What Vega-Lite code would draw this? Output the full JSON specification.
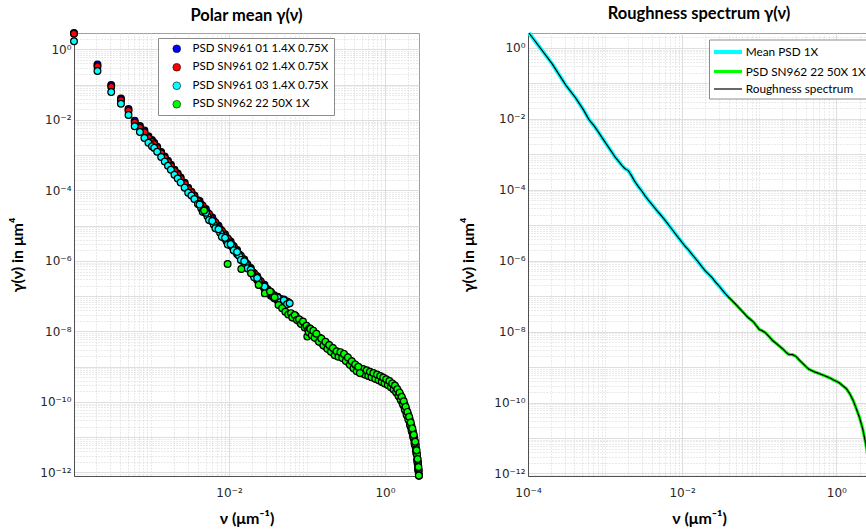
{
"$schema": "https://vega.github.io/schema/vega-lite/v6.json",
"background": "white",
"padding": {"left": 8, "top": 5, "right": 0, "bottom": 0},
"spacing": 109,
"bounds": "flush",
"resolve": {"scale": {"color": "independent", "strokeWidth": "independent"}, "legend": {"color": "independent", "strokeWidth": "independent"}},
"config": {
  "font": "Lato",
  "view": {"stroke": "#a0a0a0", "strokeWidth": 1},
  "axis": {"domain": true, "domainColor": "#505050", "ticks": false, "labelFont": "DejaVu Sans", "labelFontSize": 12, "labelColor": "#262626", "titleFont": "Lato", "titleFontSize": 16, "titleColor": "#000000", "titleFontWeight": "bold", "labelOverlap": false, "labelBound": false, "labelFlush": false, "grid": true},
  "title": {"font": "Lato", "fontSize": 16.5, "fontWeight": "bold", "color": "#000000", "offset": 3, "anchor": "middle"}
},
"datasets": {
"pts": [
{"x":1.03e-4,"y":2.93,"s":"b"},{"x":2.06e-4,"y":0.372,"s":"b"},{"x":3.09e-4,"y":9.77e-2,"s":"b"},{"x":4.12e-4,"y":4.07e-2,"s":"b"},{"x":5.15e-4,"y":2.04e-2,"s":"b"},{"x":6.18e-4,"y":9.55e-3,"s":"b"},{"x":7.21e-4,"y":6.76e-3,"s":"b"},{"x":8.24e-4,"y":5.01e-3,"s":"b"},{"x":9.27e-4,"y":3.47e-3,"s":"b"},{"x":1.03e-3,"y":2.69e-3,"s":"b"},
{"x":1.1e-3,"y":2.24e-3,"s":"b"},{"x":1.2e-3,"y":1.74e-3,"s":"b"},{"x":1.35e-3,"y":1.23e-3,"s":"b"},{"x":1.5e-3,"y":9.12e-4,"s":"b"},{"x":1.65e-3,"y":6.92e-4,"s":"b"},{"x":1.8e-3,"y":5.37e-4,"s":"b"},{"x":2.0e-3,"y":3.89e-4,"s":"b"},{"x":2.2e-3,"y":3.02e-4,"s":"b"},{"x":2.4e-3,"y":2.34e-4,"s":"b"},{"x":2.7e-3,"y":1.66e-4,"s":"b"},
{"x":3.0e-3,"y":1.20e-4,"s":"b"},{"x":3.3e-3,"y":9.12e-5,"s":"b"},{"x":3.6e-3,"y":7.24e-5,"s":"b"},{"x":4.0e-3,"y":5.25e-5,"s":"b"},{"x":4.4e-3,"y":3.98e-5,"s":"b"},{"x":4.8e-3,"y":3.09e-5,"s":"b"},{"x":5.3e-3,"y":2.34e-5,"s":"b"},{"x":5.8e-3,"y":1.78e-5,"s":"b"},{"x":6.4e-3,"y":1.35e-5,"s":"b"},{"x":7.0e-3,"y":1.05e-5,"s":"b"},
{"x":7.7e-3,"y":7.94e-6,"s":"b"},{"x":8.5e-3,"y":5.89e-6,"s":"b"},{"x":9.3e-3,"y":4.57e-6,"s":"b"},{"x":0.010,"y":3.72e-6,"s":"b"},{"x":0.011,"y":2.82e-6,"s":"b"},{"x":0.012,"y":2.19e-6,"s":"b"},{"x":0.0135,"y":1.55e-6,"s":"b"},{"x":0.015,"y":1.15e-6,"s":"b"},{"x":0.0165,"y":8.71e-7,"s":"b"},{"x":0.018,"y":6.76e-7,"s":"b"},
{"x":0.020,"y":4.90e-7,"s":"b"},{"x":0.022,"y":3.80e-7,"s":"b"},{"x":0.024,"y":2.95e-7,"s":"b"},{"x":0.027,"y":2.19e-7,"s":"b"},{"x":0.030,"y":1.66e-7,"s":"b"},{"x":0.033,"y":1.32e-7,"s":"b"},{"x":0.036,"y":1.10e-7,"s":"b"},{"x":0.040,"y":9.33e-8,"s":"b"},{"x":0.044,"y":8.32e-8,"s":"b"},{"x":0.048,"y":7.59e-8,"s":"b"},{"x":0.053,"y":7.08e-8,"s":"b"},{"x":0.058,"y":6.61e-8,"s":"b"},
{"x":4.2e-3,"y":5.0e-5,"s":"b"},{"x":4.6e-3,"y":3.16e-5,"s":"b"},{"x":5.05e-3,"y":2.96e-5,"s":"b"},{"x":5.55e-3,"y":1.84e-5,"s":"b"},{"x":6.1e-3,"y":1.71e-5,"s":"b"},{"x":6.7e-3,"y":1.07e-5,"s":"b"},{"x":7.35e-3,"y":1.0e-5,"s":"b"},{"x":8.1e-3,"y":6.16e-6,"s":"b"},{"x":8.9e-3,"y":5.71e-6,"s":"b"},{"x":9.65e-3,"y":3.71e-6,"s":"b"},
{"x":0.0105,"y":3.56e-6,"s":"b"},{"x":0.0115,"y":2.24e-6,"s":"b"},{"x":0.0127,"y":2.03e-6,"s":"b"},{"x":0.0142,"y":1.2e-6,"s":"b"},{"x":0.0157,"y":1.1e-6,"s":"b"},{"x":0.0172,"y":6.9e-7,"s":"b"},{"x":0.019,"y":6.3e-7,"s":"b"},{"x":0.021,"y":3.9e-7,"s":"b"},{"x":0.023,"y":3.7e-7,"s":"b"},{"x":0.0255,"y":2.29e-7,"s":"b"},
{"x":0.0285,"y":2.1e-7,"s":"b"},{"x":0.0315,"y":1.33e-7,"s":"b"},{"x":0.0345,"y":1.32e-7,"s":"b"},{"x":0.038,"y":9.1e-8,"s":"b"},{"x":0.042,"y":9.7e-8,"s":"b"},{"x":0.046,"y":7.2e-8,"s":"b"},{"x":0.0505,"y":8.1e-8,"s":"b"},{"x":0.0555,"y":6.2e-8,"s":"b"},

{"x":1.03e-4,"y":2.8,"s":"r"},{"x":2.06e-4,"y":0.331,"s":"r"},{"x":3.09e-4,"y":8.70e-2,"s":"r"},{"x":4.12e-4,"y":3.62e-2,"s":"r"},{"x":5.15e-4,"y":1.82e-2,"s":"r"},{"x":6.18e-4,"y":8.50e-3,"s":"r"},{"x":7.21e-4,"y":6.02e-3,"s":"r"},{"x":8.24e-4,"y":4.46e-3,"s":"r"},{"x":9.27e-4,"y":3.09e-3,"s":"r"},{"x":1.03e-3,"y":2.39e-3,"s":"r"},
{"x":1.1e-3,"y":2.06e-3,"s":"r"},{"x":1.2e-3,"y":1.60e-3,"s":"r"},{"x":1.35e-3,"y":1.13e-3,"s":"r"},{"x":1.5e-3,"y":8.39e-4,"s":"r"},{"x":1.65e-3,"y":6.37e-4,"s":"r"},{"x":1.8e-3,"y":4.94e-4,"s":"r"},{"x":2.0e-3,"y":3.58e-4,"s":"r"},{"x":2.2e-3,"y":2.78e-4,"s":"r"},{"x":2.4e-3,"y":2.15e-4,"s":"r"},{"x":2.7e-3,"y":1.53e-4,"s":"r"},
{"x":3.0e-3,"y":1.10e-4,"s":"r"},{"x":3.3e-3,"y":8.66e-5,"s":"r"},{"x":3.6e-3,"y":6.88e-5,"s":"r"},{"x":4.0e-3,"y":4.99e-5,"s":"r"},{"x":4.4e-3,"y":3.78e-5,"s":"r"},{"x":4.8e-3,"y":2.94e-5,"s":"r"},{"x":5.3e-3,"y":2.22e-5,"s":"r"},{"x":5.8e-3,"y":1.69e-5,"s":"r"},{"x":6.4e-3,"y":1.28e-5,"s":"r"},{"x":7.0e-3,"y":9.98e-6,"s":"r"},
{"x":7.7e-3,"y":7.54e-6,"s":"r"},{"x":8.5e-3,"y":5.60e-6,"s":"r"},{"x":9.3e-3,"y":4.34e-6,"s":"r"},{"x":0.010,"y":3.53e-6,"s":"r"},{"x":0.011,"y":2.68e-6,"s":"r"},{"x":0.012,"y":2.08e-6,"s":"r"},{"x":0.0135,"y":1.47e-6,"s":"r"},{"x":0.015,"y":1.09e-6,"s":"r"},{"x":0.0165,"y":8.27e-7,"s":"r"},{"x":0.018,"y":6.42e-7,"s":"r"},
{"x":0.020,"y":4.66e-7,"s":"r"},{"x":0.022,"y":3.61e-7,"s":"r"},{"x":0.024,"y":2.80e-7,"s":"r"},{"x":0.027,"y":2.08e-7,"s":"r"},{"x":0.030,"y":1.58e-7,"s":"r"},{"x":0.033,"y":1.25e-7,"s":"r"},{"x":0.036,"y":1.05e-7,"s":"r"},{"x":0.040,"y":8.86e-8,"s":"r"},{"x":0.044,"y":7.90e-8,"s":"r"},{"x":0.048,"y":7.21e-8,"s":"r"},{"x":0.053,"y":6.73e-8,"s":"r"},{"x":0.058,"y":6.28e-8,"s":"r"},
{"x":4.2e-3,"y":3.9e-5,"s":"r"},{"x":4.6e-3,"y":3.67e-5,"s":"r"},{"x":5.05e-3,"y":2.3e-5,"s":"r"},{"x":5.55e-3,"y":2.13e-5,"s":"r"},{"x":6.1e-3,"y":1.33e-5,"s":"r"},{"x":6.7e-3,"y":1.24e-5,"s":"r"},{"x":7.35e-3,"y":7.8e-6,"s":"r"},{"x":8.1e-3,"y":7.15e-6,"s":"r"},{"x":8.9e-3,"y":4.44e-6,"s":"r"},{"x":9.65e-3,"y":4.3e-6,"s":"r"},
{"x":0.0105,"y":2.77e-6,"s":"r"},{"x":0.0115,"y":2.6e-6,"s":"r"},{"x":0.0127,"y":1.57e-6,"s":"r"},{"x":0.0142,"y":1.4e-6,"s":"r"},{"x":0.0157,"y":8.6e-7,"s":"r"},{"x":0.0172,"y":8.0e-7,"s":"r"},{"x":0.019,"y":4.9e-7,"s":"r"},{"x":0.021,"y":4.5e-7,"s":"r"},{"x":0.023,"y":2.86e-7,"s":"r"},{"x":0.0255,"y":2.65e-7,"s":"r"},
{"x":0.0285,"y":1.63e-7,"s":"r"},{"x":0.0315,"y":1.55e-7,"s":"r"},{"x":0.0345,"y":1.03e-7,"s":"r"},{"x":0.038,"y":1.06e-7,"s":"r"},{"x":0.042,"y":7.5e-8,"s":"r"},{"x":0.046,"y":8.3e-8,"s":"r"},{"x":0.0505,"y":6.3e-8,"s":"r"},{"x":0.0555,"y":7.1e-8,"s":"r"},

{"x":1.03e-4,"y":1.71,"s":"c"},{"x":2.06e-4,"y":0.245,"s":"c"},{"x":3.09e-4,"y":6.17e-2,"s":"c"},{"x":4.12e-4,"y":2.88e-2,"s":"c"},{"x":5.15e-4,"y":1.38e-2,"s":"c"},{"x":6.18e-4,"y":6.61e-3,"s":"c"},{"x":7.21e-4,"y":4.57e-3,"s":"c"},{"x":8.24e-4,"y":3.09e-3,"s":"c"},{"x":9.27e-4,"y":2.24e-3,"s":"c"},{"x":1.03e-3,"y":1.78e-3,"s":"c"},
{"x":1.1e-3,"y":1.61e-3,"s":"c"},{"x":1.2e-3,"y":1.25e-3,"s":"c"},{"x":1.35e-3,"y":8.86e-4,"s":"c"},{"x":1.5e-3,"y":6.57e-4,"s":"c"},{"x":1.65e-3,"y":4.98e-4,"s":"c"},{"x":1.8e-3,"y":3.87e-4,"s":"c"},{"x":2.0e-3,"y":2.80e-4,"s":"c"},{"x":2.2e-3,"y":2.17e-4,"s":"c"},{"x":2.4e-3,"y":1.68e-4,"s":"c"},{"x":2.7e-3,"y":1.20e-4,"s":"c"},
{"x":3.0e-3,"y":8.64e-5,"s":"c"},{"x":3.3e-3,"y":7.20e-5,"s":"c"},{"x":3.6e-3,"y":5.72e-5,"s":"c"},{"x":4.0e-3,"y":4.15e-5,"s":"c"},{"x":4.4e-3,"y":3.14e-5,"s":"c"},{"x":4.8e-3,"y":2.44e-5,"s":"c"},{"x":5.3e-3,"y":1.85e-5,"s":"c"},{"x":5.8e-3,"y":1.41e-5,"s":"c"},{"x":6.4e-3,"y":1.07e-5,"s":"c"},{"x":7.0e-3,"y":8.30e-6,"s":"c"},
{"x":7.7e-3,"y":6.27e-6,"s":"c"},{"x":8.5e-3,"y":4.65e-6,"s":"c"},{"x":9.3e-3,"y":3.61e-6,"s":"c"},{"x":0.010,"y":2.94e-6,"s":"c"},{"x":0.011,"y":2.51e-6,"s":"c"},{"x":0.012,"y":1.95e-6,"s":"c"},{"x":0.0135,"y":1.38e-6,"s":"c"},{"x":0.015,"y":1.02e-6,"s":"c"},{"x":0.0165,"y":7.75e-7,"s":"c"},{"x":0.018,"y":6.02e-7,"s":"c"},
{"x":0.020,"y":4.36e-7,"s":"c"},{"x":0.022,"y":3.38e-7,"s":"c"},{"x":0.024,"y":2.63e-7,"s":"c"},{"x":0.027,"y":1.95e-7,"s":"c"},{"x":0.030,"y":1.48e-7,"s":"c"},{"x":0.033,"y":1.25e-7,"s":"c"},{"x":0.036,"y":1.05e-7,"s":"c"},{"x":0.040,"y":8.86e-8,"s":"c"},{"x":0.044,"y":7.90e-8,"s":"c"},{"x":0.048,"y":7.21e-8,"s":"c"},{"x":0.053,"y":6.73e-8,"s":"c"},
{"x":4.2e-3,"y":3.97e-5,"s":"c"},{"x":4.6e-3,"y":2.49e-5,"s":"c"},{"x":5.05e-3,"y":2.34e-5,"s":"c"},{"x":5.55e-3,"y":1.45e-5,"s":"c"},{"x":6.1e-3,"y":1.35e-5,"s":"c"},{"x":6.7e-3,"y":8.5e-6,"s":"c"},{"x":7.35e-3,"y":7.9e-6,"s":"c"},{"x":8.1e-3,"y":4.86e-6,"s":"c"},{"x":8.9e-3,"y":4.5e-6,"s":"c"},{"x":9.65e-3,"y":2.93e-6,"s":"c"},
{"x":0.0105,"y":2.99e-6,"s":"c"},{"x":0.0115,"y":1.99e-6,"s":"c"},{"x":0.0127,"y":1.8e-6,"s":"c"},{"x":0.0142,"y":1.07e-6,"s":"c"},{"x":0.0157,"y":9.8e-7,"s":"c"},{"x":0.0172,"y":6.15e-7,"s":"c"},{"x":0.019,"y":5.6e-7,"s":"c"},{"x":0.021,"y":3.45e-7,"s":"c"},{"x":0.023,"y":3.28e-7,"s":"c"},{"x":0.0255,"y":2.04e-7,"s":"c"},
{"x":0.0285,"y":1.87e-7,"s":"c"},{"x":0.0315,"y":1.22e-7,"s":"c"},{"x":0.0345,"y":1.26e-7,"s":"c"},{"x":0.038,"y":8.7e-8,"s":"c"},{"x":0.042,"y":9.2e-8,"s":"c"},{"x":0.046,"y":6.8e-8,"s":"c"},{"x":0.0505,"y":7.7e-8,"s":"c"},{"x":0.0555,"y":5.9e-8,"s":"c"},{"x":0.060,"y":6.31e-8,"s":"c"},

{"x":0.0048,"y":2.69e-5,"s":"g"},{"x":0.0096,"y":8.22e-7,"s":"g"},{"x":0.0144,"y":5.89e-7,"s":"g"},{"x":0.0192,"y":4.47e-7,"s":"g"},{"x":0.024,"y":2.09e-7,"s":"g"},{"x":0.0288,"y":1.2e-7,"s":"g"},{"x":0.0336,"y":1.35e-7,"s":"g"},{"x":0.0384,"y":9.33e-8,"s":"g"},{"x":0.0432,"y":5.62e-8,"s":"g"},{"x":0.048,"y":4.57e-8,"s":"g"},
{"x":0.0528,"y":3.63e-8,"s":"g"},{"x":0.0576,"y":3.02e-8,"s":"g"},{"x":0.0624,"y":3.3e-8,"s":"g"},{"x":0.0672,"y":2.5e-8,"s":"g"},{"x":0.072,"y":2.7e-8,"s":"g"},{"x":0.0768,"y":2.1e-8,"s":"g"},{"x":0.0816,"y":1.8e-8,"s":"g"},{"x":0.0864,"y":1.9e-8,"s":"g"},{"x":0.0912,"y":1.5e-8,"s":"g"},{"x":0.096,"y":1.45e-8,"s":"g"},
{"x":0.101,"y":7.2e-9,"s":"g"},{"x":0.106,"y":1.2e-8,"s":"g"},{"x":0.11,"y":1.0e-8,"s":"g"},{"x":0.115,"y":9.5e-9,"s":"g"},{"x":0.12,"y":9.0e-9,"s":"g"},{"x":0.125,"y":8.0e-9,"s":"g"},{"x":0.13,"y":7.5e-9,"s":"g"},{"x":0.14,"y":6.3e-9,"s":"g"},{"x":0.15,"y":5.5e-9,"s":"g"},{"x":0.16,"y":4.9e-9,"s":"g"},
{"x":0.17,"y":4.4e-9,"s":"g"},{"x":0.18,"y":4.0e-9,"s":"g"},{"x":0.19,"y":3.6e-9,"s":"g"},{"x":0.2,"y":3.3e-9,"s":"g"},{"x":0.212,"y":3.0e-9,"s":"g"},{"x":0.224,"y":2.6e-9,"s":"g"},{"x":0.236,"y":2.35e-9,"s":"g"},{"x":0.25,"y":2.3e-9,"s":"g"},{"x":0.265,"y":2.2e-9,"s":"g"},{"x":0.28,"y":2.15e-9,"s":"g"},
{"x":0.295,"y":2.0e-9,"s":"g"},{"x":0.31,"y":1.8e-9,"s":"g"},{"x":0.33,"y":1.6e-9,"s":"g"},{"x":0.35,"y":1.4e-9,"s":"g"},{"x":0.37,"y":1.25e-9,"s":"g"},{"x":0.39,"y":1.1e-9,"s":"g"},{"x":0.41,"y":1.0e-9,"s":"g"},{"x":0.43,"y":9.0e-10,"s":"g"},{"x":0.45,"y":8.5e-10,"s":"g"},{"x":0.47,"y":8.0e-10,"s":"g"},
{"x":0.5,"y":7.6e-10,"s":"g"},{"x":0.53,"y":7.2e-10,"s":"g"},{"x":0.56,"y":6.9e-10,"s":"g"},{"x":0.59,"y":6.6e-10,"s":"g"},{"x":0.62,"y":6.3e-10,"s":"g"},{"x":0.65,"y":6.0e-10,"s":"g"},{"x":0.68,"y":5.8e-10,"s":"g"},{"x":0.72,"y":5.5e-10,"s":"g"},{"x":0.76,"y":5.3e-10,"s":"g"},{"x":0.8,"y":5.0e-10,"s":"g"},
{"x":0.84,"y":4.8e-10,"s":"g"},{"x":0.88,"y":4.5e-10,"s":"g"},{"x":0.92,"y":4.3e-10,"s":"g"},{"x":0.96,"y":4.1e-10,"s":"g"},{"x":1.0,"y":3.9e-10,"s":"g"},{"x":1.05,"y":3.7e-10,"s":"g"},{"x":1.1,"y":3.5e-10,"s":"g"},{"x":1.15,"y":3.25e-10,"s":"g"},{"x":1.2,"y":3.0e-10,"s":"g"},{"x":1.25,"y":2.8e-10,"s":"g"},
{"x":1.3,"y":2.6e-10,"s":"g"},{"x":1.35,"y":2.4e-10,"s":"g"},{"x":1.4,"y":2.15e-10,"s":"g"},{"x":1.45,"y":1.9e-10,"s":"g"},{"x":1.5,"y":1.7e-10,"s":"g"},{"x":1.55,"y":1.5e-10,"s":"g"},{"x":1.6,"y":1.3e-10,"s":"g"},{"x":1.65,"y":1.15e-10,"s":"g"},{"x":1.7,"y":1.0e-10,"s":"g"},{"x":1.75,"y":8.5e-11,"s":"g"},
{"x":1.8,"y":7.0e-11,"s":"g"},{"x":1.85,"y":6.0e-11,"s":"g"},{"x":1.9,"y":5.0e-11,"s":"g"},{"x":1.95,"y":4.3e-11,"s":"g"},{"x":2.0,"y":3.7e-11,"s":"g"},{"x":2.05,"y":3.1e-11,"s":"g"},{"x":2.1,"y":2.6e-11,"s":"g"},{"x":2.15,"y":2.1e-11,"s":"g"},{"x":2.2,"y":1.8e-11,"s":"g"},{"x":2.25,"y":1.45e-11,"s":"g"},
{"x":2.3,"y":1.2e-11,"s":"g"},{"x":2.35,"y":9.5e-12,"s":"g"},{"x":2.4,"y":7.5e-12,"s":"g"},{"x":2.45,"y":6.0e-12,"s":"g"},{"x":2.5,"y":4.6e-12,"s":"g"},{"x":2.55,"y":3.4e-12,"s":"g"},{"x":2.6,"y":2.4e-12,"s":"g"},{"x":2.63,"y":1.9e-12,"s":"g"},{"x":2.66,"y":1.5e-12,"s":"g"},{"x":2.69,"y":1.15e-12,"s":"g"},
{"x":2.71,"y":9.5e-13,"s":"g"},{"x":2.73,"y":8.0e-13,"s":"g"},
{"x":0.0648,"y":2.5e-8,"s":"g"},{"x":0.0696,"y":2.9e-8,"s":"g"},{"x":0.0744,"y":2.1e-8,"s":"g"},{"x":0.0792,"y":2.2e-8,"s":"g"},{"x":0.084,"y":1.63e-8,"s":"g"},{"x":0.0888,"y":1.9e-8,"s":"g"},{"x":0.0936,"y":1.3e-8,"s":"g"},{"x":0.0985,"y":1.45e-8,"s":"g"},{"x":0.1035,"y":1.1e-8,"s":"g"},{"x":0.108,"y":1.23e-8,"s":"g"},
{"x":0.1125,"y":8.6e-9,"s":"g"},{"x":0.1175,"y":1.04e-8,"s":"g"},{"x":0.1225,"y":7.5e-9,"s":"g"},{"x":0.1275,"y":8.7e-9,"s":"g"},{"x":0.135,"y":6.1e-9,"s":"g"},{"x":0.145,"y":6.6e-9,"s":"g"},{"x":0.155,"y":4.6e-9,"s":"g"},{"x":0.165,"y":5.2e-9,"s":"g"},{"x":0.175,"y":3.7e-9,"s":"g"},{"x":0.185,"y":4.25e-9,"s":"g"},
{"x":0.195,"y":3.0e-9,"s":"g"},{"x":0.206,"y":3.5e-9,"s":"g"},{"x":0.218,"y":2.46e-9,"s":"g"},{"x":0.23,"y":2.77e-9,"s":"g"},{"x":0.243,"y":2.04e-9,"s":"g"},{"x":0.2575,"y":2.52e-9,"s":"g"},{"x":0.2725,"y":1.91e-9,"s":"g"},{"x":0.2875,"y":2.32e-9,"s":"g"},{"x":0.3025,"y":1.67e-9,"s":"g"},{"x":0.32,"y":1.9e-9,"s":"g"},
{"x":0.34,"y":1.32e-9,"s":"g"},{"x":0.36,"y":1.48e-9,"s":"g"},{"x":0.38,"y":1.03e-9,"s":"g"},{"x":0.40,"y":1.18e-9,"s":"g"},{"x":0.42,"y":8.4e-10,"s":"g"},{"x":0.44,"y":9.8e-10,"s":"g"},{"x":0.46,"y":7.3e-10,"s":"g"},{"x":0.485,"y":8.7e-10,"s":"g"},{"x":0.515,"y":6.5e-10,"s":"g"},{"x":0.545,"y":7.9e-10,"s":"g"},
{"x":0.575,"y":5.9e-10,"s":"g"},{"x":0.605,"y":7.2e-10,"s":"g"},{"x":0.635,"y":5.4e-10,"s":"g"},{"x":0.665,"y":6.6e-10,"s":"g"},{"x":0.70,"y":5.0e-10,"s":"g"},{"x":0.74,"y":6.0e-10,"s":"g"},{"x":0.78,"y":4.5e-10,"s":"g"},{"x":0.82,"y":5.5e-10,"s":"g"},{"x":0.86,"y":4.1e-10,"s":"g"},{"x":0.90,"y":4.9e-10,"s":"g"},
{"x":0.94,"y":3.7e-10,"s":"g"},{"x":0.98,"y":4.5e-10,"s":"g"},{"x":1.025,"y":3.35e-10,"s":"g"},{"x":1.075,"y":4.0e-10,"s":"g"},{"x":1.125,"y":2.97e-10,"s":"g"},{"x":1.175,"y":3.5e-10,"s":"g"},{"x":1.225,"y":2.55e-10,"s":"g"},{"x":1.275,"y":3.0e-10,"s":"g"},{"x":1.325,"y":2.2e-10,"s":"g"},{"x":1.375,"y":2.55e-10,"s":"g"},
{"x":1.425,"y":1.78e-10,"s":"g"},{"x":1.475,"y":2.0e-10,"s":"g"},{"x":1.525,"y":1.4e-10,"s":"g"},{"x":1.575,"y":1.57e-10,"s":"g"},{"x":1.625,"y":1.07e-10,"s":"g"},{"x":1.675,"y":1.2e-10,"s":"g"},{"x":1.725,"y":8.1e-11,"s":"g"},{"x":1.775,"y":8.6e-11,"s":"g"},{"x":1.825,"y":5.7e-11,"s":"g"},{"x":1.875,"y":6.2e-11,"s":"g"},
{"x":1.925,"y":4.1e-11,"s":"g"},{"x":1.975,"y":4.5e-11,"s":"g"},{"x":2.025,"y":3.0e-11,"s":"g"},{"x":2.075,"y":3.2e-11,"s":"g"},{"x":2.125,"y":2.05e-11,"s":"g"},{"x":2.175,"y":2.2e-11,"s":"g"},{"x":2.225,"y":1.4e-11,"s":"g"},{"x":2.275,"y":1.48e-11,"s":"g"},{"x":2.325,"y":9.4e-12,"s":"g"},{"x":2.375,"y":9.5e-12,"s":"g"},
{"x":2.425,"y":5.9e-12,"s":"g"},{"x":2.475,"y":5.9e-12,"s":"g"},{"x":2.525,"y":3.5e-12,"s":"g"},{"x":2.575,"y":3.2e-12,"s":"g"},{"x":2.615,"y":1.85e-12,"s":"g"},{"x":2.645,"y":1.9e-12,"s":"g"},{"x":2.675,"y":1.15e-12,"s":"g"},{"x":2.70,"y":1.17e-12,"s":"g"},{"x":2.72,"y":8.2e-13,"s":"g"},
{"x":0.4925,"y":6.5e-10,"s":"g"},{"x":0.5225,"y":8.6e-10,"s":"g"},{"x":0.5525,"y":5.95e-10,"s":"g"},{"x":0.5825,"y":7.9e-10,"s":"g"},{"x":0.6125,"y":5.4e-10,"s":"g"},{"x":0.6425,"y":7.2e-10,"s":"g"},{"x":0.6725,"y":5.0e-10,"s":"g"},{"x":0.71,"y":6.6e-10,"s":"g"},{"x":0.75,"y":4.55e-10,"s":"g"},{"x":0.79,"y":6.0e-10,"s":"g"},
{"x":0.83,"y":4.1e-10,"s":"g"},{"x":0.87,"y":5.4e-10,"s":"g"},{"x":0.91,"y":3.7e-10,"s":"g"},{"x":0.95,"y":4.9e-10,"s":"g"},{"x":0.99,"y":3.35e-10,"s":"g"},{"x":1.04,"y":4.4e-10,"s":"g"},{"x":1.09,"y":3.0e-10,"s":"g"},{"x":1.14,"y":3.9e-10,"s":"g"},{"x":1.19,"y":2.6e-10,"s":"g"},{"x":1.24,"y":3.35e-10,"s":"g"},
{"x":1.29,"y":2.25e-10,"s":"g"},{"x":1.34,"y":2.9e-10,"s":"g"},{"x":1.39,"y":1.87e-10,"s":"g"},{"x":1.44,"y":2.3e-10,"s":"g"},{"x":1.49,"y":1.49e-10,"s":"g"},{"x":1.54,"y":1.83e-10,"s":"g"},{"x":1.59,"y":1.15e-10,"s":"g"},{"x":1.64,"y":1.39e-10,"s":"g"},{"x":1.69,"y":8.8e-11,"s":"g"},{"x":1.74,"y":1.04e-10,"s":"g"},
{"x":1.79,"y":6.2e-11,"s":"g"},{"x":1.84,"y":7.3e-11,"s":"g"},{"x":1.89,"y":4.4e-11,"s":"g"},{"x":1.94,"y":5.2e-11,"s":"g"},{"x":1.99,"y":3.2e-11,"s":"g"},{"x":2.04,"y":3.8e-11,"s":"g"},{"x":2.09,"y":2.3e-11,"s":"g"},{"x":2.14,"y":2.6e-11,"s":"g"},{"x":2.19,"y":1.58e-11,"s":"g"},{"x":2.24,"y":1.77e-11,"s":"g"},
{"x":2.29,"y":1.06e-11,"s":"g"},{"x":2.34,"y":1.17e-11,"s":"g"},{"x":2.39,"y":6.7e-12,"s":"g"},{"x":2.44,"y":7.4e-12,"s":"g"},{"x":2.49,"y":4.2e-12,"s":"g"},{"x":2.54,"y":4.25e-12,"s":"g"},{"x":2.59,"y":2.2e-12,"s":"g"},{"x":2.62,"y":2.4e-12,"s":"g"},{"x":2.655,"y":1.32e-12,"s":"g"},{"x":2.685,"y":1.42e-12,"s":"g"},
{"x":0.1055,"y":9.5e-9,"s":"g"},{"x":0.1105,"y":1.18e-8,"s":"g"},{"x":0.1155,"y":7.8e-9,"s":"g"},{"x":0.1205,"y":1.05e-8,"s":"g"},{"x":0.1255,"y":6.6e-9,"s":"g"},{"x":0.132,"y":8.6e-9,"s":"g"},{"x":0.1425,"y":5.1e-9,"s":"g"},{"x":0.1525,"y":6.3e-9,"s":"g"},{"x":0.1625,"y":4.0e-9,"s":"g"},{"x":0.1725,"y":5.1e-9,"s":"g"},
{"x":0.1825,"y":3.2e-9,"s":"g"},{"x":0.1925,"y":4.1e-9,"s":"g"},{"x":0.203,"y":2.66e-9,"s":"g"},{"x":0.215,"y":3.4e-9,"s":"g"},{"x":0.227,"y":2.1e-9,"s":"g"},{"x":0.2395,"y":2.75e-9,"s":"g"},{"x":0.2535,"y":1.9e-9,"s":"g"},{"x":0.2685,"y":2.58e-9,"s":"g"},{"x":0.2835,"y":1.75e-9,"s":"g"},{"x":0.2985,"y":2.3e-9,"s":"g"},
{"x":0.315,"y":1.45e-9,"s":"g"},{"x":0.335,"y":1.83e-9,"s":"g"},{"x":0.355,"y":1.13e-9,"s":"g"},{"x":0.375,"y":1.43e-9,"s":"g"},{"x":0.395,"y":9.0e-10,"s":"g"},{"x":0.415,"y":1.16e-9,"s":"g"},{"x":0.435,"y":7.4e-10,"s":"g"},{"x":0.455,"y":9.9e-10,"s":"g"},{"x":0.4775,"y":6.6e-10,"s":"g"}
],
"lines": [
{"x":1.03e-4,"y":2.63,"s":"m"},{"x":2.06e-4,"y":0.355,"s":"m"},{"x":3.09e-4,"y":8.91e-2,"s":"m"},{"x":4.12e-4,"y":3.98e-2,"s":"m"},{"x":5.15e-4,"y":1.91e-2,"s":"m"},{"x":6.18e-4,"y":9.55e-3,"s":"m"},{"x":7.21e-4,"y":6.31e-3,"s":"m"},{"x":8.24e-4,"y":4.17e-3,"s":"m"},{"x":9.27e-4,"y":2.82e-3,"s":"m"},{"x":1.03e-3,"y":2.00e-3,"s":"m"},
{"x":1.1e-3,"y":1.62e-3,"s":"m"},{"x":1.2e-3,"y":1.23e-3,"s":"m"},{"x":1.35e-3,"y":8.32e-4,"s":"m"},{"x":1.5e-3,"y":6.31e-4,"s":"m"},{"x":1.65e-3,"y":4.90e-4,"s":"m"},{"x":1.8e-3,"y":3.98e-4,"s":"m"},{"x":2.0e-3,"y":3.47e-4,"s":"m"},{"x":2.2e-3,"y":2.51e-4,"s":"m"},{"x":2.4e-3,"y":1.78e-4,"s":"m"},{"x":2.7e-3,"y":1.23e-4,"s":"m"},
{"x":3.0e-3,"y":9.12e-5,"s":"m"},{"x":3.3e-3,"y":6.76e-5,"s":"m"},{"x":3.6e-3,"y":5.25e-5,"s":"m"},{"x":4.0e-3,"y":3.98e-5,"s":"m"},{"x":4.4e-3,"y":3.09e-5,"s":"m"},{"x":4.8e-3,"y":2.45e-5,"s":"m"},{"x":5.3e-3,"y":1.91e-5,"s":"m"},{"x":5.8e-3,"y":1.51e-5,"s":"m"},{"x":6.4e-3,"y":1.15e-5,"s":"m"},{"x":7.0e-3,"y":8.91e-6,"s":"m"},
{"x":7.7e-3,"y":6.76e-6,"s":"m"},{"x":8.5e-3,"y":5.13e-6,"s":"m"},{"x":9.3e-3,"y":3.98e-6,"s":"m"},{"x":0.010,"y":3.24e-6,"s":"m"},{"x":0.011,"y":2.51e-6,"s":"m"},{"x":0.012,"y":2.04e-6,"s":"m"},{"x":0.0135,"y":1.48e-6,"s":"m"},{"x":0.015,"y":1.12e-6,"s":"m"},{"x":0.0165,"y":8.71e-7,"s":"m"},{"x":0.018,"y":6.76e-7,"s":"m"},
{"x":0.020,"y":5.13e-7,"s":"m"},{"x":0.022,"y":4.17e-7,"s":"m"},{"x":0.024,"y":3.47e-7,"s":"m"},{"x":0.027,"y":2.51e-7,"s":"m"},{"x":0.030,"y":1.95e-7,"s":"m"},{"x":0.033,"y":1.51e-7,"s":"m"},{"x":0.036,"y":1.20e-7,"s":"m"},{"x":0.040,"y":9.33e-8,"s":"m"},

{"x":0.040,"y":9.33e-8,"s":"g"},{"x":0.044,"y":7.59e-8,"s":"g"},{"x":0.048,"y":6.31e-8,"s":"g"},{"x":0.053,"y":5.01e-8,"s":"g"},{"x":0.058,"y":4.07e-8,"s":"g"},{"x":0.064,"y":3.24e-8,"s":"g"},{"x":0.070,"y":2.63e-8,"s":"g"},{"x":0.077,"y":2.19e-8,"s":"g"},{"x":0.085,"y":1.82e-8,"s":"g"},{"x":0.093,"y":1.41e-8,"s":"g"},
{"x":0.10,"y":1.15e-8,"s":"g"},{"x":0.11,"y":1.05e-8,"s":"g"},{"x":0.12,"y":9.33e-9,"s":"g"},{"x":0.135,"y":7.08e-9,"s":"g"},{"x":0.15,"y":5.50e-9,"s":"g"},{"x":0.165,"y":4.68e-9,"s":"g"},{"x":0.18,"y":3.98e-9,"s":"g"},{"x":0.20,"y":3.31e-9,"s":"g"},{"x":0.22,"y":2.69e-9,"s":"g"},{"x":0.24,"y":2.29e-9,"s":"g"},
{"x":0.27,"y":2.24e-9,"s":"g"},{"x":0.30,"y":2.00e-9,"s":"g"},{"x":0.33,"y":1.58e-9,"s":"g"},{"x":0.36,"y":1.32e-9,"s":"g"},{"x":0.40,"y":1.05e-9,"s":"g"},{"x":0.44,"y":8.71e-10,"s":"g"},{"x":0.48,"y":7.94e-10,"s":"g"},{"x":0.53,"y":7.24e-10,"s":"g"},{"x":0.58,"y":6.76e-10,"s":"g"},{"x":0.64,"y":6.17e-10,"s":"g"},
{"x":0.70,"y":5.75e-10,"s":"g"},{"x":0.77,"y":5.25e-10,"s":"g"},{"x":0.85,"y":4.79e-10,"s":"g"},{"x":0.93,"y":4.27e-10,"s":"g"},{"x":1.0,"y":3.98e-10,"s":"g"},{"x":1.1,"y":3.55e-10,"s":"g"},{"x":1.2,"y":3.02e-10,"s":"g"},{"x":1.35,"y":2.45e-10,"s":"g"},{"x":1.5,"y":1.74e-10,"s":"g"},{"x":1.65,"y":1.15e-10,"s":"g"},
{"x":1.8,"y":7.08e-11,"s":"g"},{"x":2.0,"y":3.72e-11,"s":"g"},{"x":2.2,"y":1.78e-11,"s":"g"},{"x":2.4,"y":7.08e-12,"s":"g"},{"x":2.55,"y":3.16e-12,"s":"g"},{"x":2.65,"y":1.58e-12,"s":"g"},{"x":2.73,"y":8.6e-13,"s":"g"},

{"x":1.03e-4,"y":2.63,"s":"r"},{"x":2.06e-4,"y":0.355,"s":"r"},{"x":3.09e-4,"y":8.91e-2,"s":"r"},{"x":4.12e-4,"y":3.98e-2,"s":"r"},{"x":5.15e-4,"y":1.91e-2,"s":"r"},{"x":6.18e-4,"y":9.55e-3,"s":"r"},{"x":7.21e-4,"y":6.31e-3,"s":"r"},{"x":8.24e-4,"y":4.17e-3,"s":"r"},{"x":9.27e-4,"y":2.82e-3,"s":"r"},{"x":1.03e-3,"y":2.00e-3,"s":"r"},
{"x":1.1e-3,"y":1.62e-3,"s":"r"},{"x":1.2e-3,"y":1.23e-3,"s":"r"},{"x":1.35e-3,"y":8.32e-4,"s":"r"},{"x":1.5e-3,"y":6.31e-4,"s":"r"},{"x":1.65e-3,"y":4.90e-4,"s":"r"},{"x":1.8e-3,"y":3.98e-4,"s":"r"},{"x":2.0e-3,"y":3.47e-4,"s":"r"},{"x":2.2e-3,"y":2.51e-4,"s":"r"},{"x":2.4e-3,"y":1.78e-4,"s":"r"},{"x":2.7e-3,"y":1.23e-4,"s":"r"},
{"x":3.0e-3,"y":9.12e-5,"s":"r"},{"x":3.3e-3,"y":6.76e-5,"s":"r"},{"x":3.6e-3,"y":5.25e-5,"s":"r"},{"x":4.0e-3,"y":3.98e-5,"s":"r"},{"x":4.4e-3,"y":3.09e-5,"s":"r"},{"x":4.8e-3,"y":2.45e-5,"s":"r"},{"x":5.3e-3,"y":1.91e-5,"s":"r"},{"x":5.8e-3,"y":1.51e-5,"s":"r"},{"x":6.4e-3,"y":1.15e-5,"s":"r"},{"x":7.0e-3,"y":8.91e-6,"s":"r"},
{"x":7.7e-3,"y":6.76e-6,"s":"r"},{"x":8.5e-3,"y":5.13e-6,"s":"r"},{"x":9.3e-3,"y":3.98e-6,"s":"r"},{"x":0.010,"y":3.24e-6,"s":"r"},{"x":0.011,"y":2.51e-6,"s":"r"},{"x":0.012,"y":2.04e-6,"s":"r"},{"x":0.0135,"y":1.48e-6,"s":"r"},{"x":0.015,"y":1.12e-6,"s":"r"},{"x":0.0165,"y":8.71e-7,"s":"r"},{"x":0.018,"y":6.76e-7,"s":"r"},
{"x":0.020,"y":5.13e-7,"s":"r"},{"x":0.022,"y":4.17e-7,"s":"r"},{"x":0.024,"y":3.47e-7,"s":"r"},{"x":0.027,"y":2.51e-7,"s":"r"},{"x":0.030,"y":1.95e-7,"s":"r"},{"x":0.033,"y":1.51e-7,"s":"r"},{"x":0.036,"y":1.20e-7,"s":"r"},
{"x":0.040,"y":9.33e-8,"s":"r"},{"x":0.044,"y":7.59e-8,"s":"r"},{"x":0.048,"y":6.31e-8,"s":"r"},{"x":0.053,"y":5.01e-8,"s":"r"},{"x":0.058,"y":4.07e-8,"s":"r"},{"x":0.064,"y":3.24e-8,"s":"r"},{"x":0.070,"y":2.63e-8,"s":"r"},{"x":0.077,"y":2.19e-8,"s":"r"},{"x":0.085,"y":1.82e-8,"s":"r"},{"x":0.093,"y":1.41e-8,"s":"r"},
{"x":0.10,"y":1.15e-8,"s":"r"},{"x":0.11,"y":1.05e-8,"s":"r"},{"x":0.12,"y":9.33e-9,"s":"r"},{"x":0.135,"y":7.08e-9,"s":"r"},{"x":0.15,"y":5.50e-9,"s":"r"},{"x":0.165,"y":4.68e-9,"s":"r"},{"x":0.18,"y":3.98e-9,"s":"r"},{"x":0.20,"y":3.31e-9,"s":"r"},{"x":0.22,"y":2.69e-9,"s":"r"},{"x":0.24,"y":2.29e-9,"s":"r"},
{"x":0.27,"y":2.24e-9,"s":"r"},{"x":0.30,"y":2.00e-9,"s":"r"},{"x":0.33,"y":1.58e-9,"s":"r"},{"x":0.36,"y":1.32e-9,"s":"r"},{"x":0.40,"y":1.05e-9,"s":"r"},{"x":0.44,"y":8.71e-10,"s":"r"},{"x":0.48,"y":7.94e-10,"s":"r"},{"x":0.53,"y":7.24e-10,"s":"r"},{"x":0.58,"y":6.76e-10,"s":"r"},{"x":0.64,"y":6.17e-10,"s":"r"},
{"x":0.70,"y":5.75e-10,"s":"r"},{"x":0.77,"y":5.25e-10,"s":"r"},{"x":0.85,"y":4.79e-10,"s":"r"},{"x":0.93,"y":4.27e-10,"s":"r"},{"x":1.0,"y":3.98e-10,"s":"r"},{"x":1.1,"y":3.55e-10,"s":"r"},{"x":1.2,"y":3.02e-10,"s":"r"},{"x":1.35,"y":2.45e-10,"s":"r"},{"x":1.5,"y":1.74e-10,"s":"r"},{"x":1.65,"y":1.15e-10,"s":"r"},
{"x":1.8,"y":7.08e-11,"s":"r"},{"x":2.0,"y":3.72e-11,"s":"r"},{"x":2.2,"y":1.78e-11,"s":"r"},{"x":2.4,"y":7.08e-12,"s":"r"},{"x":2.55,"y":3.16e-12,"s":"r"},{"x":2.65,"y":1.58e-12,"s":"r"},{"x":2.73,"y":8.6e-13,"s":"r"}
]
},
"hconcat": [
{
  "width": 345, "height": 443,
  "title": {"text": "Polar mean γ(ν)"},
  "data": {"name": "pts"},
  "mark": {"type": "circle", "size": 46, "opacity": 1, "stroke": "#000000", "strokeWidth": 1.2},
  "encoding": {
    "x": {"field": "x", "type": "quantitative",
      "scale": {"type": "log", "domain": [1.03e-4, 2.73], "nice": false},
      "axis": {"title": "ν (μm⁻¹)", "labelPadding": 11, "titlePadding": 12,
        "values": [2e-4,3e-4,4e-4,5e-4,6e-4,7e-4,8e-4,9e-4,0.001,0.002,0.003,0.004,0.005,0.006,0.007,0.008,0.009,0.01,0.02,0.03,0.04,0.05,0.06,0.07,0.08,0.09,0.1,0.2,0.3,0.4,0.5,0.6,0.7,0.8,0.9,1,2],
        "labelExpr": "datum.value == 1 ? '10⁰' : datum.value == 0.01 ? '10⁻²' : datum.value == 0.0001 ? '10⁻⁴' : ''",
        "gridDash": {"condition": {"test": "indexof([1,0.01,0.0001], datum.value) < 0", "value": [1, 2]}, "value": []},
        "gridColor": {"condition": {"test": "indexof([1,0.01,0.0001], datum.value) < 0", "value": "#d4d4d4"}, "value": "#dedede"}}},
    "y": {"field": "y", "type": "quantitative",
      "scale": {"type": "log", "domain": [7.9e-13, 2.93], "nice": false},
      "axis": {"title": "γ(ν) in μm⁴", "labelPadding": 3, "titleX": -49,
        "values": [9e-13,1e-12,2e-12,3e-12,4e-12,5e-12,6e-12,7e-12,8e-12,9e-12,1e-11,2e-11,3e-11,4e-11,5e-11,6e-11,7e-11,8e-11,9e-11,1e-10,2e-10,3e-10,4e-10,5e-10,6e-10,7e-10,8e-10,9e-10,1e-9,2e-9,3e-9,4e-9,5e-9,6e-9,7e-9,8e-9,9e-9,1e-8,2e-8,3e-8,4e-8,5e-8,6e-8,7e-8,8e-8,9e-8,1e-7,2e-7,3e-7,4e-7,5e-7,6e-7,7e-7,8e-7,9e-7,1e-6,2e-6,3e-6,4e-6,5e-6,6e-6,7e-6,8e-6,9e-6,1e-5,2e-5,3e-5,4e-5,5e-5,6e-5,7e-5,8e-5,9e-5,1e-4,2e-4,3e-4,4e-4,5e-4,6e-4,7e-4,8e-4,9e-4,0.001,0.002,0.003,0.004,0.005,0.006,0.007,0.008,0.009,0.01,0.02,0.03,0.04,0.05,0.06,0.07,0.08,0.09,0.1,0.2,0.3,0.4,0.5,0.6,0.7,0.8,0.9,1,2],
        "labelExpr": "datum.value == 1 ? '10⁰' : datum.value == 0.01 ? '10⁻²' : datum.value == 0.0001 ? '10⁻⁴' : datum.value == 1e-6 ? '10⁻⁶' : datum.value == 1e-8 ? '10⁻⁸' : datum.value == 1e-10 ? '10⁻¹⁰' : datum.value == 1e-12 ? '10⁻¹²' : ''",
        "gridDash": {"condition": {"test": "indexof([1,0.1,0.01,0.001,0.0001,1e-5,1e-6,1e-7,1e-8,1e-9,1e-10,1e-11,1e-12], datum.value) < 0", "value": [1, 2]}, "value": []},
        "gridColor": {"condition": {"test": "indexof([1,0.1,0.01,0.001,0.0001,1e-5,1e-6,1e-7,1e-8,1e-9,1e-10,1e-11,1e-12], datum.value) < 0", "value": "#d4d4d4"}, "value": "#dedede"}}},
    "color": {"field": "s", "type": "nominal",
      "scale": {"domain": ["b", "r", "c", "g"], "range": ["#0000ff", "#ff0000", "#00ffff", "#00ff00"]},
      "legend": {"orient": "none", "legendX": 84, "legendY": 5, "title": null, "fillColor": "white", "strokeColor": "#8c8c8c", "padding": 5, "rowPadding": 5.5, "labelFontSize": 11.5, "labelFont": "Lato", "labelColor": "#000000", "labelOffset": 10, "symbolOffset": 8, "symbolType": "circle", "symbolSize": 60, "symbolStrokeColor": "#000000", "symbolStrokeWidth": 0.6, "symbolOpacity": 1, "labelLimit": 300,
        "labelExpr": "datum.label == 'b' ? 'PSD SN961 01 1.4X 0.75X' : datum.label == 'r' ? 'PSD SN961 02 1.4X 0.75X' : datum.label == 'c' ? 'PSD SN961 03 1.4X 0.75X' : 'PSD SN962 22 50X 1X'"}}
  }
},
{
  "width": 342, "height": 443,
  "title": {"text": "Roughness spectrum γ(ν)"},
  "data": {"name": "lines"},
  "encoding": {
    "x": {"field": "x", "type": "quantitative",
      "scale": {"type": "log", "domain": [1e-4, 2.73], "nice": false},
      "axis": {"title": "ν (μm⁻¹)", "labelPadding": 11, "titlePadding": 12,
        "values": [1e-4,2e-4,3e-4,4e-4,5e-4,6e-4,7e-4,8e-4,9e-4,0.001,0.002,0.003,0.004,0.005,0.006,0.007,0.008,0.009,0.01,0.02,0.03,0.04,0.05,0.06,0.07,0.08,0.09,0.1,0.2,0.3,0.4,0.5,0.6,0.7,0.8,0.9,1,2],
        "labelExpr": "datum.value == 1 ? '10⁰' : datum.value == 0.01 ? '10⁻²' : datum.value == 0.0001 ? '10⁻⁴' : ''",
        "gridDash": {"condition": {"test": "indexof([1,0.01,0.0001], datum.value) < 0", "value": [1, 2]}, "value": []},
        "gridColor": {"condition": {"test": "indexof([1,0.01,0.0001], datum.value) < 0", "value": "#d4d4d4"}, "value": "#dedede"}}},
    "y": {"field": "y", "type": "quantitative",
      "scale": {"type": "log", "domain": [8.5e-13, 2.63], "nice": false},
      "axis": {"title": "γ(ν) in μm⁴", "labelPadding": 3, "titleX": -52,
        "values": [9e-13,1e-12,2e-12,3e-12,4e-12,5e-12,6e-12,7e-12,8e-12,9e-12,1e-11,2e-11,3e-11,4e-11,5e-11,6e-11,7e-11,8e-11,9e-11,1e-10,2e-10,3e-10,4e-10,5e-10,6e-10,7e-10,8e-10,9e-10,1e-9,2e-9,3e-9,4e-9,5e-9,6e-9,7e-9,8e-9,9e-9,1e-8,2e-8,3e-8,4e-8,5e-8,6e-8,7e-8,8e-8,9e-8,1e-7,2e-7,3e-7,4e-7,5e-7,6e-7,7e-7,8e-7,9e-7,1e-6,2e-6,3e-6,4e-6,5e-6,6e-6,7e-6,8e-6,9e-6,1e-5,2e-5,3e-5,4e-5,5e-5,6e-5,7e-5,8e-5,9e-5,1e-4,2e-4,3e-4,4e-4,5e-4,6e-4,7e-4,8e-4,9e-4,0.001,0.002,0.003,0.004,0.005,0.006,0.007,0.008,0.009,0.01,0.02,0.03,0.04,0.05,0.06,0.07,0.08,0.09,0.1,0.2,0.3,0.4,0.5,0.6,0.7,0.8,0.9,1,2],
        "labelExpr": "datum.value == 1 ? '10⁰' : datum.value == 0.01 ? '10⁻²' : datum.value == 0.0001 ? '10⁻⁴' : datum.value == 1e-6 ? '10⁻⁶' : datum.value == 1e-8 ? '10⁻⁸' : datum.value == 1e-10 ? '10⁻¹⁰' : datum.value == 1e-12 ? '10⁻¹²' : ''",
        "gridDash": {"condition": {"test": "indexof([1,0.1,0.01,0.001,0.0001,1e-5,1e-6,1e-7,1e-8,1e-9,1e-10,1e-11,1e-12], datum.value) < 0", "value": [1, 2]}, "value": []},
        "gridColor": {"condition": {"test": "indexof([1,0.1,0.01,0.001,0.0001,1e-5,1e-6,1e-7,1e-8,1e-9,1e-10,1e-11,1e-12], datum.value) < 0", "value": "#d4d4d4"}, "value": "#dedede"}}},
    "color": {"field": "s", "type": "nominal",
      "scale": {"domain": ["m", "g", "r"], "range": ["#00ffff", "#00ff00", "#000000"]},
      "legend": {"orient": "none", "legendX": 181, "legendY": 6.5, "title": null, "fillColor": "white", "strokeColor": "#8c8c8c", "padding": 2, "rowPadding": 0.5, "labelFontSize": 11.8, "labelFont": "Lato", "labelColor": "#000000", "labelOffset": 7.2, "symbolOffset": 6.5, "symbolType": "M-1.65,0H1.65", "symbolSize": 289, "labelLimit": 300,
        "labelExpr": "datum.label == 'm' ? 'Mean PSD 1X' : datum.label == 'g' ? 'PSD SN962 22 50X 1X' : 'Roughness spectrum'"}},
    "strokeWidth": {"field": "s", "type": "nominal",
      "scale": {"type": "ordinal", "domain": ["m", "g", "r"], "range": [4, 3.2, 1.2]},
      "legend": {"orient": "none", "legendX": 181, "legendY": 6.5, "title": null, "fillColor": "white", "strokeColor": "#8c8c8c", "padding": 2, "rowPadding": 0.5, "labelFontSize": 11.8, "labelFont": "Lato", "labelColor": "#000000", "labelOffset": 7.2, "symbolOffset": 6.5, "symbolType": "M-1.65,0H1.65", "symbolSize": 289, "labelLimit": 300,
        "labelExpr": "datum.label == 'm' ? 'Mean PSD 1X' : datum.label == 'g' ? 'PSD SN962 22 50X 1X' : 'Roughness spectrum'"}}
  },
  "layer": [
    {"transform": [{"filter": "datum.s == 'm'"}], "mark": {"type": "line"}},
    {"transform": [{"filter": "datum.s == 'g'"}], "mark": {"type": "line"}},
    {"transform": [{"filter": "datum.s == 'r'"}], "mark": {"type": "line"}}
  ]
}
]
}
